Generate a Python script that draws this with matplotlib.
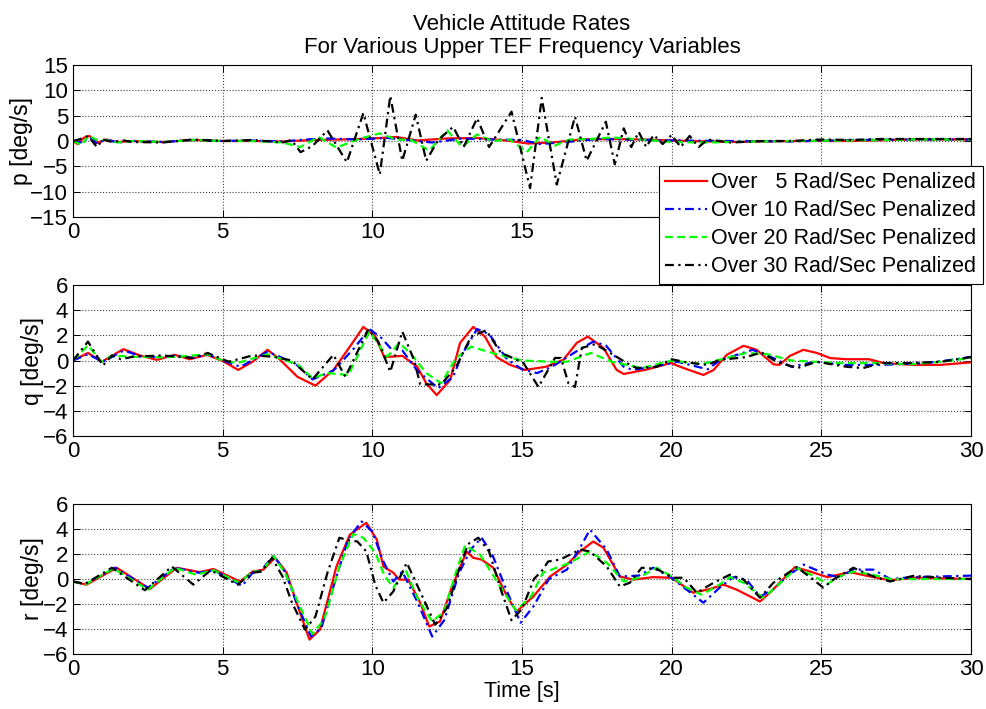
import matplotlib
matplotlib.use("Agg")
import matplotlib.pyplot as plt

plt.rcParams['font.family'] = ['Liberation Sans', 'DejaVu Sans']
plt.rcParams['font.size'] = 16

labels = ['Over   5 Rad/Sec Penalized', 'Over 10 Rad/Sec Penalized',
          'Over 20 Rad/Sec Penalized', 'Over 30 Rad/Sec Penalized']

# ---- p (roll rate) ----
p_t_red = [0, 0.15, 0.35, 0.55, 0.8, 1.1, 1.5, 2, 3, 4, 5, 6, 7, 8, 9, 10, 10.8, 11.5,
           12.5, 13.5, 14.5, 15.2, 16, 17, 18, 19, 20, 22, 24, 26, 28, 30]
p_red = [0, -0.6, 0.6, 1.0, -0.4, 0.3, -0.2, 0, -0.2, 0.2, 0, 0, -0.1, 0.2, 0.3, 0.5, 0.8, 0.1,
         0.5, 0.6, 0.1, -0.5, -0.3, 0.3, 0.4, 0.3, 0.1, -0.2, 0, 0, 0.3, 0.3]

p_t_blue = [0, 0.3, 0.55, 0.8, 1.1, 1.5, 2, 3, 4, 5, 6, 7, 7.8, 8.5, 9.5, 10.5, 11.2, 12,
            13, 14, 15, 15.6, 16.5, 17.5, 18.5, 20, 22, 24, 26, 28, 30]
p_blue = [0, -0.3, 0.9, -0.5, 0.3, -0.3, 0, -0.2, 0.2, 0, 0.1, -0.1, 0.3, 0.5, 0.3, 0.6, 0.2, -0.3,
          0.5, 0.3, 0.2, -0.6, -0.2, 0.4, 0.3, 0.1, 0, -0.1, 0.2, 0.3, 0.3]

p_t_green = [0, 0.3, 0.5, 0.8, 1.1, 1.5, 2, 3, 4, 5, 6, 7, 7.6, 8.2, 8.8, 9.6, 10.25, 10.8,
             11.3, 11.9, 12.5, 13.0, 13.5, 14.0, 14.6, 15.16, 15.6, 16.1, 16.6, 17.3, 18,
             19, 20, 21, 22, 24, 26, 28, 30]
p_green = [0, -0.8, 1.1, 0.2, 0.2, -0.3, 0, -0.2, 0.2, 0, 0, -0.3, -1.2, 0.8, -1.3, 0.5, 1.5, 0.3,
           0.2, -1.9, 2.1, -1.2, 1.3, 0.0, 0.3, -2.2, 0.8, -0.9, 0.3, 0.4, 0.7,
           0.3, -0.2, -0.3, -0.2, 0, 0.1, 0.3, 0.3]

p_t_black = [0, 0.2, 0.5, 0.8, 1.0, 1.3, 1.7, 2, 3, 4, 5, 6, 7, 7.3, 7.6, 8.0, 8.5, 9.15,
             9.7, 10.25, 10.6, 11.0, 11.45, 11.8, 12.2, 12.7, 13.05, 13.5, 13.9, 14.65,
             15.27, 15.66, 16.16, 16.77, 17.16, 17.8, 18.1, 18.4, 18.65, 18.9, 19.15, 19.4,
             19.7, 20.0, 20.3, 20.6, 20.9, 21.2, 22, 23, 24, 25, 26, 27, 28, 29, 30]
p_black = [0, 0.3, 1.0, -1.2, 0.3, -0.2, 0.1, -0.2, -0.3, 0.3, 0, 0.2, -0.3, 0.2, -2.2, -1.0, 2.1, -4.2,
           5.5, -6.6, 8.9, -3.9, 5.2, -3.9, 0.2, 2.8, -1.2, 4.5, -1.2, 5.8,
           -9.3, 8.5, -8.6, 4.8, -3.9, 3.8, -4.6, 2.5, -1.2, 1.8, -1.2, 1.2,
           -0.6, 1.2, -1.2, 1.0, -1.2, 0.3, -0.3, 0, 0, 0.3, 0.2, 0.4, 0.4, 0.4, 0.4]

# ---- q (pitch rate) ----
q_t_red = [0, 0.5, 0.96, 1.68, 2.24, 2.8, 3.4, 3.9, 4.47, 4.97, 5.52, 6.0, 6.5, 6.9, 7.5, 8.1,
           8.7, 9.25, 9.7, 10.1, 10.4, 11.0, 11.5, 11.8, 12.15, 12.6, 12.93, 13.37, 13.76,
           14.15, 14.6, 15.1, 15.8, 16.38, 16.83, 17.2, 17.72, 18.16, 18.4, 19.2, 19.97,
           20.4, 21.06, 21.4, 21.84, 22.4, 22.84, 23.4, 23.6, 23.95, 24.4, 24.85, 25.3,
           25.85, 26.6, 27.07, 28.07, 28.96, 30]
q_red = [0, 0.6, -0.1, 0.9, 0.4, 0.05, 0.45, 0.1, 0.45, 0, -0.75, -0.1, 0.85, 0.1, -1.3, -2.0,
         -0.75, 1.1, 2.67, 1.9, 0.27, 0.37, -0.5, -1.8, -2.75, -1.55, 1.4, 2.67, 1.9,
         0.27, -0.35, -0.75, -0.5, 0.05, 1.4, 1.9, 1.0, -0.75, -1.07, -0.7, -0.2,
         -0.6, -1.15, -0.75, 0.45, 1.17, 0.85, -0.3, -0.35, 0.37, 0.85, 0.6, 0.19,
         0.1, 0.1, -0.2, -0.35, -0.35, -0.15]

q_t_blue = [0, 0.5, 1.0, 1.7, 2.3, 3.0, 3.5, 4.0, 4.5, 5.0, 5.6, 6.5, 7.0, 7.5, 8.0, 8.7, 9.4,
            9.9, 10.3, 10.6, 11.0, 11.5, 12.2, 12.7, 13.0, 13.5, 13.9, 14.5, 15.0, 15.5,
            16.0, 16.9, 17.38, 17.8, 18.4, 18.7, 19.6, 20.2, 21.2, 21.6, 22.7, 23.3, 24.0,
            24.8, 25.8, 27.0, 28.5, 29.5, 30]
q_blue = [0, 0.5, -0.1, 0.8, 0.3, 0.3, 0.4, 0.2, 0.5, 0.0, -0.5, 0.7, 0.2, -0.4, -1.5, -0.8, 1.0,
          2.5, 1.8, 1.0, 0.8, -0.8, -2.2, -1.3, 0.5, 2.5, 2.1, 0.1, -0.7, -1.0,
          -0.5, 0.85, 1.5, 1.2, -0.5, -0.75, -0.4, -0.1, -0.7, 0.0, 0.85, 0.3, -0.5,
          -0.1, -0.35, -0.35, -0.2, 0.1, 0.3]

q_t_green = [0, 0.5, 0.95, 1.3, 2.0, 3.0, 3.5, 4.5, 5.0, 5.5, 6.5, 7.5, 8.0, 8.5, 9.2, 9.9,
             10.5, 10.9, 11.3, 11.8, 12.3, 12.8, 13.3, 14.0, 14.5, 15.0, 16.0, 16.5, 17.3,
             18.0, 19.0, 20.0, 21.0, 22.5, 23.2, 24.0, 25.5, 26.7, 28.0, 29.0, 30]
q_green = [0, 1.2, -0.1, 0.4, 0.3, 0.25, 0.3, 0.5, 0.0, -0.2, 0.5, -0.3, -1.4, -1.0, -1.15, 2.3,
           0.3, 1.4, 0.5, -1.0, -1.8, 0.2, 1.1, 0.6, 0.3, 0.0, -0.1, -0.1, 0.6,
           -0.1, -0.6, 0.0, -0.3, 0.6, 0.5, 0.0, -0.2, -0.2, -0.3, -0.1, 0.2]

q_t_black = [0, 0.5, 1.0, 1.3, 1.6, 2.0, 3.0, 4.0, 4.5, 5.2, 6.0, 6.7, 7.3, 8.0, 8.7, 9.1,
             9.87, 10.2, 10.6, 11.0, 11.4, 11.6, 12.3, 12.8, 13.3, 13.8, 14.3, 14.6, 15.05,
             15.55, 16.1, 16.3, 16.55, 16.77, 17.0, 17.44, 17.95, 18.5, 18.83, 19.5, 20.0,
             20.5, 21.2, 21.6, 22.5, 23.0, 23.5, 24.2, 24.85, 25.85, 26.4, 27.0, 28.0,
             29.0, 30]
q_black = [0, 1.5, -0.4, 0.4, 0.1, 0.3, 0.4, 0.2, 0.6, -0.1, 0.4, 0.3, 0.0, -1.5, 0.45, -1.3,
           2.5, 1.5, -0.9, 2.3, 0.0, -1.9, -1.9, -0.5, 1.9, 2.4, 0.6, 0.3, -0.2,
           -2.1, 0.2, 0.2, -1.8, -2.1, 1.0, 1.3, 0.6, -0.2, -0.6, -0.5, 0.1,
           -0.15, -0.35, 0.05, 0.27, 0.65, -0.1, -0.6, -0.1, -0.5, -0.6, -0.2, -0.2,
           -0.1, 0.27]

# ---- r (yaw rate) ----
r_t_red = [0, 0.45, 1.46, 2.57, 3.46, 4.24, 4.69, 5.58, 6.0, 6.36, 6.75, 7.14, 7.47, 7.9,
           8.25, 8.8, 9.25, 9.8, 10.15, 10.37, 10.7, 10.9, 11.2, 11.6, 11.9, 12.26, 12.65,
           13.15, 13.37, 13.65, 14.04, 14.5, 14.82, 15.38, 15.94, 16.5, 16.94, 17.38,
           17.72, 18.27, 18.72, 19.38, 20.0, 20.72, 21.28, 21.73, 22.17, 22.95, 23.28,
           24.12, 24.62, 25.2, 25.96, 26.63, 27.3, 28.07, 30]
r_red = [-0.2, -0.45, 0.9, -0.8, 0.9, 0.55, 0.8, -0.2, 0.6, 0.75, 1.7, 0.5, -1.9, -4.85,
         -4.05, 1.0, 3.55, 4.5, 3.15, 1.0, 0.5, -0.05, -0.05, -1.9, -3.8, -3.4, -0.7,
         2.2, 1.7, 1.55, 0.9, -1.4, -2.6, -1.4, 0.2, 1.15, 2.2, 3.0,
         2.5, 0.2, -0.05, 0.15, 0.1, -1.1, -0.8, -0.45, -0.85, -1.8, -1.1,
         0.95, 0.6, 0.15, 0.55, 0.2, -0.1, 0.1, 0.0]

r_t_blue = [0, 0.4, 1.4, 2.5, 3.4, 4.2, 4.7, 5.65, 6.0, 6.3, 6.7, 7.1, 7.45, 7.95, 8.3, 8.8,
            9.2, 9.64, 10.0, 10.35, 10.7, 11.0, 11.5, 12.0, 12.4, 12.9, 13.3, 13.65, 14.0,
            14.5, 14.95, 15.38, 15.9, 16.5, 16.94, 17.27, 17.83, 18.27, 18.9, 19.38, 19.97,
            20.5, 21.06, 21.6, 22.06, 22.5, 22.95, 23.4, 23.85, 24.4, 25.2, 25.6, 26.07,
            26.74, 27.3, 28.1, 30]
r_blue = [-0.2, -0.4, 0.9, -0.7, 0.9, 0.5, 0.7, -0.55, 0.5, 0.7, 1.9, 0.5, -1.8, -4.6, -3.9, 0.2,
          3.2, 4.6, 3.8, 1.5, -0.2, 0.6, -1.8, -4.6, -3.3, 0.5, 2.4, 3.3, 2.0,
          -1.0, -3.5, -2.2, 0.0, 0.75, 2.5, 3.95, 2.35, 0.2, 0.27, 0.9, 0.15,
          -0.85, -1.9, -0.7, 0.15, -0.05, -1.4, -0.85, 0.2, 1.15, 0.35, 0.15, 0.75,
          0.75, 0.0, 0.15, 0.27]

r_t_green = [0, 0.4, 1.35, 2.5, 3.4, 4.1, 4.7, 5.55, 6.0, 6.3, 6.7, 7.1, 7.45, 8.0, 8.4, 8.9,
             9.36, 9.7, 10.1, 10.4, 10.7, 11.1, 11.5, 12.0, 12.4, 12.8, 13.1, 13.6, 14.27,
             14.8, 15.3, 15.7, 16.16, 16.6, 17.27, 17.83, 18.4, 18.9, 19.5, 20.0, 20.5, 21.0,
             21.5, 21.95, 22.4, 23.06, 23.5, 24.18, 24.85, 25.2, 25.6, 26.07, 26.7, 27.3,
             28.5, 30]
r_green = [-0.2, -0.45, 0.85, -0.85, 0.9, 0.35, 0.7, -0.3, 0.6, 0.6, 1.85, 0.4, -1.5, -4.4, -3.2,
           1.0, 3.6, 3.3, 2.1, 0.3, -0.7, 0.8, -1.5, -3.4, -2.6, 0.6, 2.7, 1.95, -0.6,
           -2.5, -1.4, 0.5, 0.9, 1.3, 2.2, 1.3, -0.2, 0.1, 0.9, 0.2, -0.7, -1.25,
           -0.6, 0.15, -0.3, -1.5, -0.6, 0.9, 0.1, -0.4, 0.2, 0.6, 0.35, 0.0,
           0.0, 0.0]

r_t_black = [0, 0.4, 1.3, 2.4, 3.3, 4.02, 4.6, 5.5, 6.0, 6.3, 6.65, 7.0, 7.3, 7.75, 8.1, 8.5,
             8.9, 9.2, 9.5, 9.8, 10.1, 10.37, 10.7, 11.15, 11.5, 12.1, 12.5, 12.9, 13.2,
             13.54, 13.9, 14.3, 14.65, 15.0, 15.4, 15.7, 15.87, 16.27, 16.94, 17.27, 17.83,
             18.27, 18.6, 19.0, 19.5, 20.05, 20.4, 20.84, 21.4, 21.95, 22.4, 22.95, 23.4,
             24.18, 24.73, 25.07, 25.4, 26.07, 26.74, 27.3, 28.07, 29.0, 30]
r_black = [-0.2, -0.4, 0.9, -0.9, 1.0, -0.45, 0.7, -0.45, 0.5, 0.6, 1.7, 0.2, -1.8, -4.05, -3.0,
           0.5, 3.3, 3.1, 3.0, 2.2, -0.5, -1.9, -1.0, 1.3, -0.5, -3.65, -2.3, 0.8, 2.8,
           3.3, 2.2, -0.9, -3.3, -2.4, 0.0, 0.75, 1.4, 1.55, 2.35, 2.2, 1.0,
           -0.6, -0.3, 0.9, 0.8, 0.1, 0.1, -1.1, -0.3, 0.35, -0.05, -1.5, -0.3,
           0.95, -0.05, -0.7, -0.05, 0.9, 0.2, -0.2, 0.25, 0.1, 0.0]

# line styles (MATLAB look)
styles = [dict(color=(1, 0, 0), linestyle='-'),
          dict(color=(0, 0, 1), dashes=(4, 2, 1, 2)),
          dict(color=(0, 1, 0), dashes=(3.5, 2)),
          dict(color='k', dashes=(4, 2, 1, 2))]

panels = [
    ([(p_t_red, p_red), (p_t_blue, p_blue), (p_t_green, p_green), (p_t_black, p_black)],
     'p [deg/s]', (-15, 15), range(-15, 16, 5), -0.0445),
    ([(q_t_red, q_red), (q_t_blue, q_blue), (q_t_green, q_green), (q_t_black, q_black)],
     'q [deg/s]', (-6, 6), range(-6, 7, 2), -0.0323),
    ([(r_t_red, r_red), (r_t_blue, r_blue), (r_t_green, r_green), (r_t_black, r_black)],
     'r [deg/s]', (-6, 6), range(-6, 7, 2), -0.0323),
]

W, H = 987, 709
fig = plt.figure(figsize=(W / 100, H / 100), dpi=100)

# axes boxes in pixels: (top, bottom)
boxes = [(65, 217), (285, 436), (504, 654)]
left, right = 73, 971

axes = []
for (series, ylab, ylim, yticks, labx), (top, bot) in zip(panels, boxes):
    ax = fig.add_axes([left / W, 1 - bot / H, (right - left) / W, (bot - top) / H])
    for (t, v), st in zip(series, styles):
        ax.plot(t, v, lw=1.6, **st)
    ax.set_xlim(0, 30)
    ax.set_ylim(*ylim)
    ax.set_xticks(range(0, 31, 5))
    ax.set_yticks(list(yticks))
    ax.set_ylabel(ylab, fontsize=16.5)
    ax.yaxis.set_label_coords(labx, 0.5)
    ax.grid(True, color='#444444', linestyle=':', linewidth=0.8)
    ax.tick_params(direction='in', top=True, right=True, length=5, width=0.7, pad=3.5, labelsize=16)
    for s in ax.spines.values():
        s.set_linewidth(0.8)
    axes.append(ax)

axes[0].set_title('Vehicle Attitude Rates\nFor Various Upper TEF Frequency Variables',
                  fontsize=16, pad=9, linespacing=1.12)
axes[2].set_xlabel('Time [s]', fontsize=15.5, labelpad=1)

leg = axes[0].legend(labels, loc='upper right', bbox_to_anchor=(983 / W, 1 - 166 / H),
                     bbox_transform=fig.transFigure, borderaxespad=0, fontsize=15.5,
                     fancybox=False, framealpha=1, edgecolor='k', handlelength=1.95,
                     handletextpad=0.2, labelspacing=0.32, borderpad=0.3)
leg.get_frame().set_linewidth(0.8)

fig.savefig('out.png', dpi=100)
